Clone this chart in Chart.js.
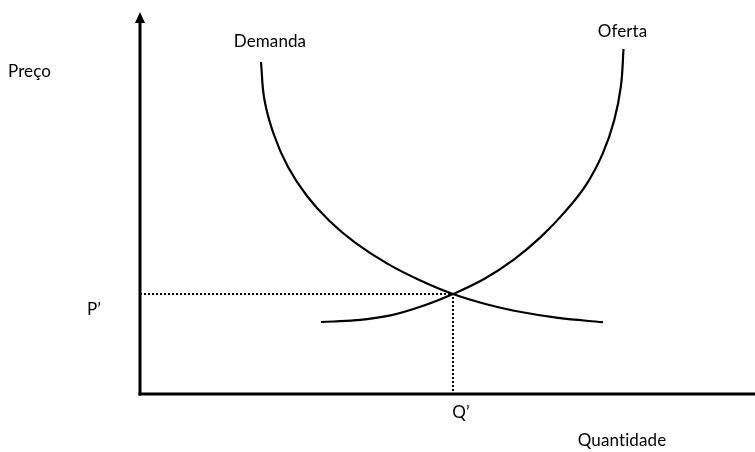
<!DOCTYPE html>
<html>
<head>
<meta charset="utf-8">
<script src="https://cdn.jsdelivr.net/npm/chart.js@4.4.1/dist/chart.umd.min.js"></script>
<style>
  html, body { margin: 0; padding: 0; background: #fff; }
  #wrap { width: 755px; height: 452px; }
</style>
</head>
<body>
<div id="wrap"><canvas id="chart" width="755" height="452"></canvas></div>
<script>
// quantity (x) and price (y), both on a 0-100 scale
const demandQ = [19.67, 20.24, 21.79, 24.07, 27.15, 30.86, 35.09, 40.28, 45.50, 50.89, 56.49, 62.20, 67.98, 75.28];
const demandP = [86.91, 76.96, 67.80, 59.42, 51.83, 45.21, 39.48, 34.06, 29.79, 26.18, 23.43, 21.39, 19.92, 18.80];

const supplyQ = [29.43, 35.12, 40.75, 46.18, 50.89, 56.02, 60.78, 65.14, 69.09, 72.59, 75.25, 77.11, 78.20, 78.62];
const supplyP = [18.85, 19.32, 20.60, 23.17, 26.18, 30.18, 35.18, 41.07, 47.67, 54.90, 62.98, 71.65, 80.65, 90.31];

// equilibrium
const eqQ = 50.89;
const eqP = 26.18;

const axisLabels = { x: 'Quantidade', y: 'Preço' };
const tickLabels = { q: 'Q’', p: 'P’' };
const curveNames = ['Demanda', 'Oferta'];

const toPoints = (xs, ys) => xs.map((x, i) => ({ x: x, y: ys[i] }));

const FONT = '17px Lato, "Open Sans", sans-serif';

const drawExtras = {
  id: 'drawExtras',
  afterDatasetsDraw(chart) {
    const ctx = chart.ctx;
    const xs = chart.scales.x;
    const ys = chart.scales.y;
    const x0 = xs.getPixelForValue(0);
    const y0 = ys.getPixelForValue(0);
    const top = chart.chartArea.top;
    const right = chart.chartArea.right;

    ctx.save();
    ctx.strokeStyle = '#000';
    ctx.fillStyle = '#000';
    ctx.lineWidth = 3;
    ctx.lineCap = 'butt';

    // y axis + arrow
    ctx.beginPath();
    ctx.moveTo(x0, y0 + 1.5);
    ctx.lineTo(x0, top + 8);
    ctx.stroke();
    ctx.beginPath();
    ctx.moveTo(x0, top);
    ctx.lineTo(x0 - 5, top + 11);
    ctx.lineTo(x0 + 5, top + 11);
    ctx.closePath();
    ctx.fill();

    // x axis
    ctx.beginPath();
    ctx.moveTo(x0 - 1.5, y0);
    ctx.lineTo(right, y0);
    ctx.stroke();

    // labels (tiny letter spacing keeps "ti" from turning into a ligature)
    ctx.font = FONT;
    if ('letterSpacing' in ctx) ctx.letterSpacing = '0.1px';
    ctx.textBaseline = 'middle';
    ctx.textAlign = 'left';
    ctx.fillText(axisLabels.y, 8, 72);
    ctx.textAlign = 'center';
    ctx.fillText(axisLabels.x, 622, 441);
    ctx.fillText(tickLabels.p, x0 - 46, ys.getPixelForValue(eqP) + 16);
    ctx.fillText(tickLabels.q, xs.getPixelForValue(eqQ) + 8, y0 + 19);

    const dTop = chart.getDatasetMeta(0).data[0];
    const sTop = chart.getDatasetMeta(1).data[supplyQ.length - 1];
    ctx.fillText(curveNames[0], dTop.x + 9, dTop.y - 20);
    ctx.fillText(curveNames[1], sTop.x - 1, sTop.y - 18);
    ctx.restore();
  }
};

new Chart(document.getElementById('chart'), {
  type: 'scatter',
  data: {
    datasets: [
      {
        label: curveNames[0],
        data: toPoints(demandQ, demandP),
        showLine: true,
        borderColor: '#000',
        borderWidth: 2.2,
        pointRadius: 0,
        tension: 0.4
      },
      {
        label: curveNames[1],
        data: toPoints(supplyQ, supplyP),
        showLine: true,
        borderColor: '#000',
        borderWidth: 2.2,
        pointRadius: 0,
        tension: 0.4
      },
      {
        label: 'equilibrio',
        data: [{ x: 0, y: eqP }, { x: eqQ, y: eqP }, { x: eqQ, y: 0 }],
        showLine: true,
        borderColor: '#000',
        borderWidth: 2,
        borderDash: [2, 2],
        pointRadius: 0,
        tension: 0
      }
    ]
  },
  options: {
    responsive: false,
    animation: false,
    layout: { padding: { left: 140, right: 0, top: 12, bottom: 58 } },
    plugins: { legend: { display: false }, tooltip: { enabled: false } },
    scales: {
      x: { type: 'linear', min: 0, max: 100, display: false },
      y: { type: 'linear', min: 0, max: 100, display: false }
    }
  },
  plugins: [drawExtras]
});
</script>
</body>
</html>
